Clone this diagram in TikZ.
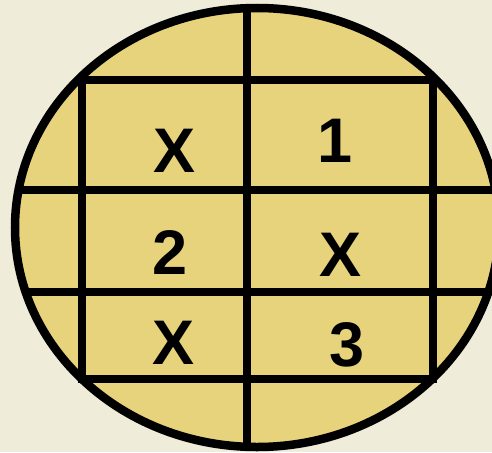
\documentclass[tikz,border=0pt]{standalone}
\usepackage{fontspec}
\setmainfont{Liberation Sans}
\definecolor{bgc}{RGB}{239,236,217}
\definecolor{fillc}{RGB}{232,211,125}
\tikzset{
  gridline/.style={line width=8.5pt, black},
  mark label/.style={font=\fontsize{63}{63}\selectfont\bfseries, inner sep=0pt, anchor=center}
}
\begin{document}
\begin{tikzpicture}[x=1pt,y=-1pt]
\fill[bgc] (0,0) rectangle (492,452);
\useasboundingbox (0,0) rectangle (492,452);
\coordinate (c) at (257,227.5);
\fill[fillc] (c) ellipse [x radius=242, y radius=219.5];
\begin{scope}
  \clip (c) ellipse [x radius=242, y radius=219.5];
  \draw[gridline] (247,0) -- (247,452);
  \draw[gridline] (0,190) -- (520,190);
  \draw[gridline] (0,292) -- (520,292);
\end{scope}
\draw[gridline] (82,80) rectangle (433,379);
\draw[gridline] (c) ellipse [x radius=242, y radius=219.5];
\node[mark label] (a) at (175,151) {X};
\node[mark label] (b) at (335,141) {1};
\node[mark label] (d) at (170,253) {2};
\node[mark label] (e) at (341,255) {X};
\node[mark label] (f) at (174,343) {X};
\node[mark label] (g) at (347,345) {3};
\end{tikzpicture}
\end{document}
